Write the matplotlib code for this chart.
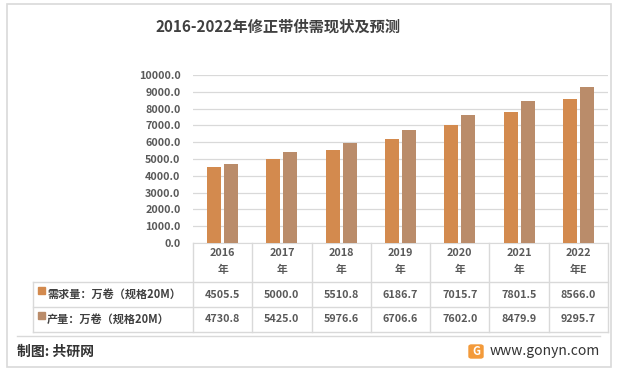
import matplotlib.pyplot as plt
from matplotlib.patches import Rectangle, FancyBboxPatch
from matplotlib.lines import Line2D

plt.rcParams['font.family'] = ['Noto Sans CJK SC', 'DejaVu Sans']

years = ['2016\n年', '2017\n年', '2018\n年', '2019\n年', '2020\n年', '2021\n年', '2022\n年E']
demand = [4505.5, 5000.0, 5510.8, 6186.7, 7015.7, 7801.5, 8566.0]
output = [4730.8, 5425.0, 5976.6, 6706.6, 7602.0, 8479.9, 9295.7]
series_names = ['需求量：万卷（规格20M）', '产量：万卷（规格20M）']
colors = ['#D38A4E', '#BA8C6A']
yticks = [0, 1000, 2000, 3000, 4000, 5000, 6000, 7000, 8000, 9000, 10000]

W, H = 617, 373
fig = plt.figure(figsize=(W / 100, H / 100), dpi=100)


def fx(x):
    return x / W


def fy(y):
    return 1 - y / H


# outer frame
fig.add_artist(Rectangle((fx(7), fy(367)), fx(604), (367 - 4) / H, fill=False,
                         edgecolor='#D9D9D9', lw=1.2, transform=fig.transFigure))

fig.text(fx(278), fy(27), '2016-2022年修正带供需现状及预测', ha='center', va='center',
         fontsize=11, fontweight='bold', color='#404040')

ax_l, ax_r, ax_t, ax_b = 193, 608, 75, 243
ax = fig.add_axes([fx(ax_l), fy(ax_b), (ax_r - ax_l) / W, (ax_b - ax_t) / H])
n = len(years)
x = list(range(n))
bw = 0.236
gap = 0.025
ax.bar([i - bw / 2 - gap for i in x], demand, width=bw, color=colors[0], zorder=3)
ax.bar([i + bw / 2 + gap for i in x], output, width=bw, color=colors[1], zorder=3)
ax.set_xlim(-0.5, n - 0.5)
ax.set_ylim(0, 10000)
ax.set_yticks(yticks)
ax.set_yticklabels([f'{v:.1f}' for v in yticks], fontsize=7.8, fontweight='bold', color='#595959')
ax.set_xticks([])
ax.grid(axis='y', color='#D9D9D9', lw=0.9, zorder=0)
for s in ['top', 'right', 'left']:
    ax.spines[s].set_visible(False)
ax.spines['bottom'].set_color('#D9D9D9')
ax.tick_params(axis='y', length=0, pad=9)

# data table
lc = '#D9D9D9'
colw = (ax_r - ax_l) / n
r0, r1, r2, r3 = 243, 282, 307, 332
lab_l = 33


def hline(y, x0, x1):
    fig.add_artist(Line2D([fx(x0), fx(x1)], [fy(y), fy(y)], color=lc, lw=1, transform=fig.transFigure))


def vline(x0, y0, y1):
    fig.add_artist(Line2D([fx(x0), fx(x0)], [fy(y0), fy(y1)], color=lc, lw=1, transform=fig.transFigure))


for y in [r1, r2, r3]:
    hline(y, lab_l, ax_r)
for i in range(n + 1):
    vline(ax_l + i * colw, r0, r3)
vline(lab_l, r1, r3)

for i, lab in enumerate(years):
    cx = ax_l + (i + 0.5) * colw
    top, bottom = lab.split('\n')
    fig.text(fx(cx), fy(253), top, ha='center', va='center', fontsize=7.8,
             fontweight='bold', color='#595959')
    fig.text(fx(cx), fy(270), bottom, ha='center', va='center', fontsize=7.8,
             fontweight='bold', color='#595959')
    fig.text(fx(cx), fy((r1 + r2) / 2), f'{demand[i]:.1f}', ha='center', va='center',
             fontsize=7.8, fontweight='bold', color='#595959')
    fig.text(fx(cx), fy((r2 + r3) / 2), f'{output[i]:.1f}', ha='center', va='center',
             fontsize=7.8, fontweight='bold', color='#595959')

for k, (name, c) in enumerate(zip(series_names, colors)):
    yc = (r1 + r2) / 2 if k == 0 else (r2 + r3) / 2
    fig.add_artist(Rectangle((fx(38), fy(yc - 1)), 7 / W, 7 / H, color=c, transform=fig.transFigure))
    fig.text(fx(47), fy(yc), name, ha='left', va='center', fontsize=8,
             fontweight='bold', color='#404040')

# footer
hline(336, 17, 600)
fig.text(fx(17), fy(352), '制图: 共研网', ha='left', va='center', fontsize=10,
         fontweight='bold', color='#333333')
fig.add_artist(FancyBboxPatch((fx(469), fy(358)), 14 / W, 13 / H,
                              boxstyle='round,pad=0,rounding_size=0.004',
                              color='#F39A3A', transform=fig.transFigure))
fig.text(fx(476), fy(351.5), 'G', ha='center', va='center', fontsize=8,
         fontweight='bold', color='white')
fig.text(fx(490), fy(351), 'www.gonyn.com', ha='left', va='center', fontsize=10,
         color='#333333')

fig.savefig('out.png', dpi=100)
